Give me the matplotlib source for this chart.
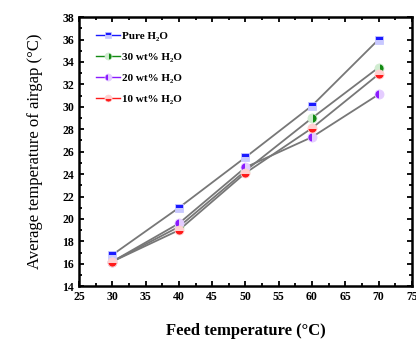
import numpy as np
import matplotlib.pyplot as plt
from matplotlib.lines import Line2D
from matplotlib.ticker import MultipleLocator

# feed temperature (C) and average airgap temperature (C)
feed = [30, 40, 50, 60, 70]
pure = [16.8, 21.0, 25.5, 30.1, 36.0]
wt30 = [16.2, 19.3, 24.3, 29.0, 33.5]
wt20 = [16.2, 19.6, 24.6, 27.3, 31.1]
wt10 = [16.2, 19.0, 24.1, 28.1, 32.9]

labels = ['Pure H₂O', '30 wt% H₂O', '20 wt% H₂O', '10 wt% H₂O']
colors = ['#1a1aff', '#138a13', '#8a1aff', '#ff1a1a']
alts = ['#c8c8ff', '#d0ecd0', '#e4ccff', '#ffd0d0']
markers = ['s', 'o', 'o', 'o']
sizes = [5.5, 6.5, 6.5, 6.5]
fills = ['top', 'right', 'left', 'bottom']

plt.rcParams['font.family'] = ['Liberation Serif', 'DejaVu Serif']
plt.rcParams['font.weight'] = 'bold'

fig = plt.figure(figsize=(4.16, 3.42), dpi=100)
ax = fig.add_axes([0.19, 0.163, 0.80, 0.787])

handles = []
for y, c, a, m, s, f, lab in zip([pure, wt30, wt20, wt10], colors, alts, markers, sizes, fills, labels):
    ax.plot(feed, y, color='#777777', lw=1.3, zorder=1)
    ax.plot(feed, y, ls='none', marker=m, ms=s, fillstyle=f, color=c,
            markerfacecoloralt=a, markeredgecolor=a, markeredgewidth=0.6, zorder=2)
    handles.append(Line2D([0], [0], color=c, lw=1, marker=m, ms=s - 1.5, fillstyle=f,
                          markerfacecoloralt=a, markeredgecolor=a,
                          markeredgewidth=0.5, label=lab))

ax.set_xlim(25, 75)
ax.set_ylim(14, 38)
ax.xaxis.set_major_locator(MultipleLocator(5))
ax.xaxis.set_minor_locator(MultipleLocator(2.5))
ax.yaxis.set_major_locator(MultipleLocator(2))
ax.yaxis.set_minor_locator(MultipleLocator(1))
ax.tick_params(which='both', direction='in', top=True, right=True, labelsize=8.5, width=1.3)
ax.tick_params(which='major', length=3.5)
ax.tick_params(which='minor', length=2)
for sp in ax.spines.values():
    sp.set_linewidth(1.8)

ax.set_xlabel('Feed temperature (°C)', fontsize=12, fontweight='bold', labelpad=14)
ax.set_ylabel('Average temperature of airgap (°C)', fontsize=12, fontweight='normal', labelpad=14)

ax.legend(handles=handles, loc='upper left', frameon=False, fontsize=8,
          handlelength=2.2, handletextpad=0.2, labelspacing=1.0,
          bbox_to_anchor=(0.02, 0.985))

fig.savefig('out.png', dpi=100)
